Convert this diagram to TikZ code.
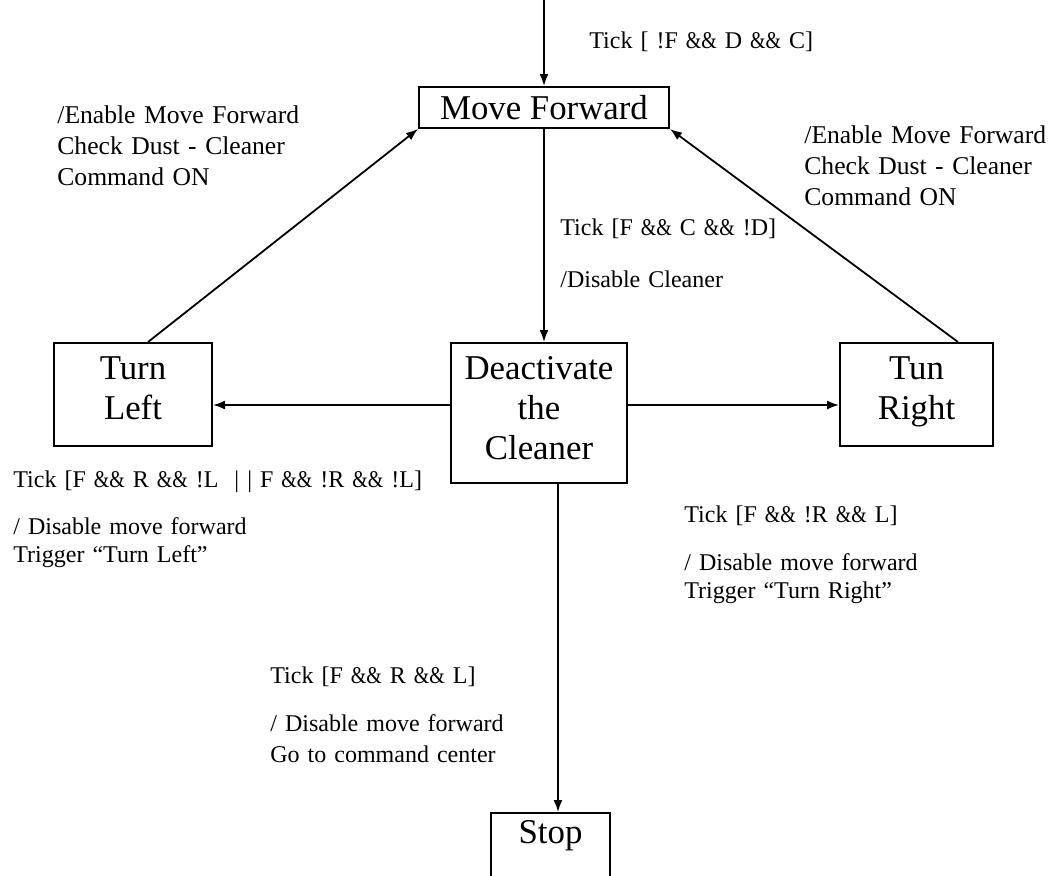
\documentclass[tikz,border=0pt]{standalone}
\usepackage{fontspec}
\usepackage{graphicx}
\setmainfont{Liberation Serif}
\usetikzlibrary{arrows.meta}
\newcommand\andsym{\scalebox{0.83}[1]{\&\&}}

\begin{document}
\begin{tikzpicture}[x=0.5pt,y=-0.5pt,
    state/.style={draw, line width=1pt, align=center, inner sep=0pt, font=\fontsize{17.4}{20}\selectfont},
    note/.style={anchor=base west, inner sep=0pt, text width=260pt, align=left, font=\fontsize{12}{14}\selectfont},
    bignote/.style={note, font=\fontsize{12.8}{14}\selectfont},
    trans/.style={line width=0.9pt, -{Latex[length=6pt,width=4.5pt]}}]
    \useasboundingbox (0,0) rectangle (1051,875);
    \clip (0,0) rectangle (1051,875);
    % states
    \node[state, minimum width=125pt, minimum height=20.5pt] (fwd) at (544,107.5) {Move Forward};
    \node[state, minimum width=79pt, minimum height=51.5pt] (left) at (133,394.5) {Turn\\Left\rule[-6pt]{0pt}{0pt}};
    \node[state, minimum width=88pt, minimum height=70pt] (clean) at (539,413) {Deactivate\\the\\Cleaner\rule[-5pt]{0pt}{0pt}};
    \node[state, minimum width=76.5pt, minimum height=51.5pt] (right) at (916.5,394.5) {Tun\\Right\rule[-6pt]{0pt}{0pt}};
    \node[state, minimum width=59.5pt, anchor=north, inner ysep=3.7pt, text depth=40pt] (stop) at (550.5,812) {Stop};
    \coordinate (entry) at (544,0);
    % transitions
    \draw[trans] (entry) -- (fwd.north); % start
    \draw[trans] (fwd.south) -- (fwd.south |- clean.north); % dust found
    \draw[trans] ([yshift=4pt]clean.west) -- ([yshift=4pt]clean.west -| left.east); % go left
    \draw[trans] ([yshift=4pt]clean.east) -- ([yshift=4pt]clean.east -| right.west); % go right
    \draw[trans] ([xshift=7.5pt]left.north) -- (fwd.south west); % back from left
    \draw[trans] ([xshift=20.75pt]right.north) -- (fwd.south east); % back from right
    \draw[trans] ([xshift=9.5pt]clean.south) -- ([xshift=9.5pt]clean.south |- stop.north); % blocked
    % guards and actions
    \node[note] (guardtop) at (589,48) {Tick [ !F \andsym{} D \andsym{} C]};
    \node[bignote] (actleft) at (57,123) {/Enable Move Forward\\[1.5pt]Check Dust - Cleaner\\[1.5pt]Command ON};
    \node[bignote] (actright) at (804,143) {/Enable Move Forward\\[1.5pt]Check Dust - Cleaner\\[1.5pt]Command ON};
    \node[note] (guardmid) at (560,235) {Tick [F \andsym{} C \andsym{} !D]\\[12pt]/Disable Cleaner};
    \node[note] (guardleft) at (13,487) {Tick [F \andsym{} R \andsym{} !L \ | | F \andsym{} !R \andsym{} !L]\\[9.5pt]/ Disable move forward\\Trigger “Turn Left”};
    \node[note] (guardright) at (684,522) {Tick [F \andsym{} !R \andsym{} L]\\[10pt]/ Disable move forward\\Trigger “Turn Right”};
    \node[note] (guardstop) at (270,683) {Tick [F \andsym{} R \andsym{} L]\\[10pt]/ Disable move forward\\[1.5pt]Go to command center};
\end{tikzpicture}
\end{document}
